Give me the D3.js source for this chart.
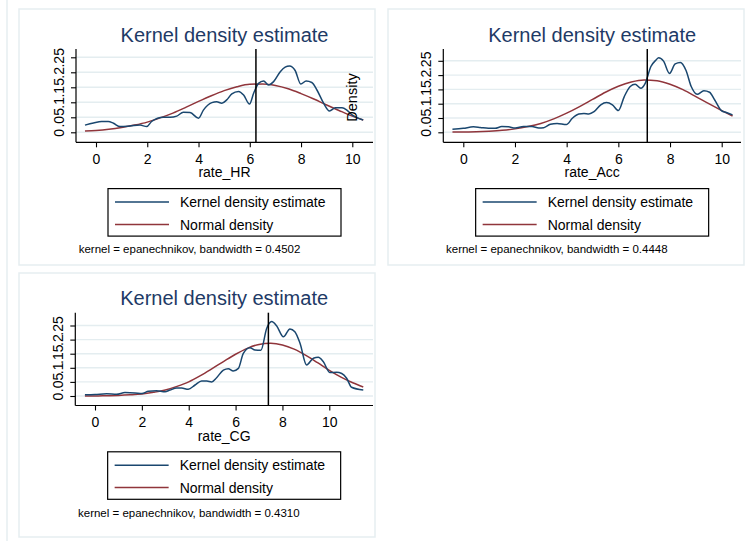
<!DOCTYPE html>
<html>
<head>
<meta charset="utf-8">
<script src="https://cdn.jsdelivr.net/npm/d3@7"></script>
<style>
  html, body { margin: 0; padding: 0; background: #ffffff; }
  svg { display: block; font-family: "Liberation Sans", Arial, Helvetica, sans-serif; }
</style>
</head>
<body>
<svg id="chart" width="749" height="541"></svg>
<script>
// ---- tick labels and legend text ----
const yTicks = [0, 0.05, 0.1, 0.15, 0.2, 0.25];
const xTicks = [0, 2, 4, 6, 8, 10];
const legendLabels = ["Kernel density estimate", "Normal density"];
const plotTitle = "Kernel density estimate";

// ---- rate_HR ----
const hrKdX = [-0.43, -0.1, 0.22, 0.48, 0.68, 0.94, 1.33, 1.72, 1.98, 2.17, 2.63, 2.89, 3.15, 3.41, 3.67, 4.0,
  4.19, 4.52, 4.71, 4.91, 5.1, 5.3, 5.56, 5.76, 5.99, 6.15, 6.34, 6.54, 6.73, 6.93, 7.19, 7.38, 7.55, 7.77,
  7.99, 8.2, 8.42, 8.62, 8.88, 9.11, 9.34, 9.6, 9.79, 9.99, 10.18, 10.42];
const hrKdY = [0.024, 0.031, 0.036, 0.036, 0.030, 0.019, 0.021, 0.024, 0.019, 0.036, 0.050, 0.050, 0.054, 0.067, 0.066, 0.047,
  0.074, 0.099, 0.102, 0.097, 0.108, 0.128, 0.136, 0.124, 0.094, 0.130, 0.163, 0.171, 0.158, 0.169, 0.202, 0.217, 0.221, 0.206,
  0.161, 0.171, 0.166, 0.141, 0.097, 0.071, 0.082, 0.082, 0.074, 0.058, 0.049, 0.041];
const hrNormX = [-0.43, 0, 0.5, 1, 1.5, 2, 2.5, 3, 3.5, 4, 4.5, 5, 5.5, 6, 6.5, 7, 7.5, 8, 8.5, 9, 9.5, 10, 10.43];
const hrNormY = [0.004, 0.006, 0.010, 0.016, 0.024, 0.034, 0.048, 0.064, 0.083, 0.103, 0.122, 0.139, 0.152, 0.160, 0.161,
  0.156, 0.145, 0.129, 0.111, 0.091, 0.072, 0.054, 0.041];
const hrMean = 6.24;
const hrBandwidth = "0.4502";

// ---- rate_Acc ----
const accKdX = [-0.42, 0, 0.39, 0.65, 0.97, 1.23, 1.49, 1.75, 2.01, 2.33, 2.66, 2.92, 3.11, 3.37, 3.63, 3.99,
  4.22, 4.47, 4.67, 4.86, 5.06, 5.32, 5.54, 5.77, 6.0, 6.23, 6.46, 6.65, 6.87, 7.04, 7.26, 7.46, 7.56, 7.75,
  7.98, 8.2, 8.4, 8.62, 8.82, 9.05, 9.31, 9.53, 9.73, 9.99, 10.18, 10.42];
const accKdY = [0.011, 0.014, 0.019, 0.017, 0.014, 0.014, 0.020, 0.019, 0.015, 0.020, 0.020, 0.015, 0.016, 0.028, 0.031, 0.027,
  0.049, 0.064, 0.066, 0.064, 0.072, 0.096, 0.104, 0.096, 0.076, 0.125, 0.160, 0.168, 0.154, 0.171, 0.230, 0.253, 0.261, 0.249,
  0.206, 0.239, 0.244, 0.216, 0.160, 0.133, 0.145, 0.140, 0.113, 0.076, 0.069, 0.061];
const accNormX = [-0.42, 0, 0.5, 1, 1.5, 2, 2.5, 3, 3.5, 4, 4.5, 5, 5.5, 6, 6.5, 7, 7.5, 8, 8.5, 9, 9.5, 10, 10.42];
const accNormY = [0.001, 0.001, 0.002, 0.004, 0.007, 0.012, 0.020, 0.031, 0.047, 0.067, 0.090, 0.115, 0.140, 0.161, 0.176,
  0.183, 0.180, 0.168, 0.149, 0.125, 0.100, 0.076, 0.057];
const accMean = 7.12;
const accBandwidth = "0.4448";

// ---- rate_CG ----
const cgKdX = [-0.43, 0, 0.5, 0.92, 1.28, 1.71, 2.0, 2.28, 2.63, 2.99, 3.2, 3.49, 3.7, 3.98, 4.27, 4.55, 4.77,
  4.98, 5.19, 5.48, 5.69, 5.9, 6.12, 6.33, 6.61, 6.83, 7.08, 7.33, 7.54, 7.75, 8.04, 8.32, 8.53, 8.75, 9.03,
  9.32, 9.53, 9.74, 10.03, 10.31, 10.53, 10.74, 10.95, 11.45];
const cgKdY = [0.004, 0.005, 0.008, 0.006, 0.012, 0.011, 0.009, 0.017, 0.019, 0.015, 0.021, 0.028, 0.028, 0.024, 0.039, 0.053, 0.053,
  0.050, 0.065, 0.092, 0.097, 0.089, 0.098, 0.151, 0.171, 0.163, 0.162, 0.240, 0.264, 0.249, 0.210, 0.238, 0.228, 0.187, 0.110,
  0.134, 0.137, 0.122, 0.083, 0.084, 0.080, 0.063, 0.031, 0.021];
const cgNormX = [-0.43, 0, 0.5, 1, 1.5, 2, 2.5, 3, 3.5, 4, 4.5, 5, 5.5, 6, 6.5, 7, 7.5, 8, 8.5, 9, 9.5, 10, 10.5, 11, 11.45];
const cgNormY = [0.000, 0.000, 0.001, 0.002, 0.004, 0.007, 0.013, 0.021, 0.034, 0.050, 0.072, 0.097, 0.123, 0.148, 0.169,
  0.183, 0.187, 0.181, 0.166, 0.144, 0.118, 0.091, 0.067, 0.047, 0.032];
const cgMean = 7.4;
const cgBandwidth = "0.4310";

// ---- styling ----
const kdColor = "#1a476f";
const normColor = "#90353b";
const titleColor = "#1e3a66";
const gridColor = "#e4edf0";
const frameColor = "#e6eef1";

const svg = d3.select("#chart");

// faint outer frame of the combined graph
svg.append("line").attr("x1", 7).attr("x2", 7).attr("y1", 0).attr("y2", 541)
  .attr("stroke", frameColor).attr("stroke-width", 1.5);

// one entry per sub-graph: variable, data and where its plot region sits
const panels = [
  { name: "rate_HR", kdX: hrKdX, kdY: hrKdY, nX: hrNormX, nY: hrNormY, mean: hrMean, bw: hrBandwidth,
    frame: [19, 9, 356, 256], plot: [76, 49, 373, 142.3], xr: [96, 352.3], yr: [132.3, 57.3], density: true },
  { name: "rate_Acc", kdX: accKdX, kdY: accKdY, nX: accNormX, nY: accNormY, mean: accMean, bw: accBandwidth,
    frame: [388, 9, 356, 256], plot: [443.3, 49, 741, 142.3], xr: [463.3, 721.7], yr: [132.3, 60.8], density: false },
  { name: "rate_CG", kdX: cgKdX, kdY: cgKdY, nX: cgNormX, nY: cgNormY, mean: cgMean, bw: cgBandwidth,
    frame: [19, 273, 356, 264], plot: [75.3, 312.7, 373, 405.5], xr: [95, 329.3], yr: [396, 325.5], density: false }
];

const fmtY = d => d === 0 ? "0" : String(d).replace(/^0/, "");

panels.forEach(p => {
  const [px0, py0, px1, py1] = p.plot;
  const g = svg.append("g");

  g.append("rect")
    .attr("x", p.frame[0]).attr("y", p.frame[1]).attr("width", p.frame[2]).attr("height", p.frame[3])
    .attr("fill", "none").attr("stroke", frameColor).attr("stroke-width", 1.5);

  const x = d3.scaleLinear().domain([0, 10]).range(p.xr);
  const y = d3.scaleLinear().domain([0, 0.25]).range(p.yr);

  // horizontal grid lines
  g.append("g").selectAll("line").data(yTicks).join("line")
    .attr("x1", px0).attr("x2", px1)
    .attr("y1", d => y(d)).attr("y2", d => y(d))
    .attr("stroke", gridColor).attr("stroke-width", 1.4);

  // y axis
  const ya = g.append("g").attr("transform", `translate(${px0},0)`)
    .call(d3.axisLeft(y).tickValues(yTicks).tickSize(5).tickFormat(fmtY));
  ya.select(".domain").remove();
  ya.selectAll(".tick line").attr("stroke", "#000").attr("stroke-width", 1.1);
  ya.selectAll(".tick text")
    .attr("x", null).attr("dy", null).attr("y", null)
    .attr("text-anchor", "middle")
    .attr("transform", "translate(-12.5,0) rotate(-90)")
    .attr("font-size", 14).attr("fill", "#000")
    .attr("font-family", "Liberation Sans, Arial, sans-serif");
  g.append("line").attr("x1", px0).attr("x2", px0).attr("y1", py0).attr("y2", py1)
    .attr("stroke", "#000").attr("stroke-width", 1.2);

  // x axis
  const xa = g.append("g").attr("transform", `translate(0,${py1})`)
    .call(d3.axisBottom(x).tickValues(xTicks).tickSize(5).tickFormat(d3.format("d")));
  xa.select(".domain").remove();
  xa.selectAll(".tick line").attr("stroke", "#000").attr("stroke-width", 1.1);
  xa.selectAll(".tick text")
    .attr("y", 21.5).attr("dy", null)
    .attr("font-size", 14).attr("fill", "#000")
    .attr("font-family", "Liberation Sans, Arial, sans-serif");
  g.append("line").attr("x1", px0).attr("x2", px1).attr("y1", py1).attr("y2", py1)
    .attr("stroke", "#000").attr("stroke-width", 1.2);

  const cx = (px0 + px1) / 2;

  // title and axis title
  g.append("text").attr("x", cx).attr("y", py0 - 7.5).attr("text-anchor", "middle")
    .attr("font-size", 20).attr("fill", titleColor).text(plotTitle);
  g.append("text").attr("x", cx).attr("y", py1 + 35).attr("text-anchor", "middle")
    .attr("font-size", 14).attr("fill", "#000").text(p.name);

  // normal density and kernel estimate
  const line = d3.line().x(d => x(d[0])).y(d => y(d[1])).curve(d3.curveMonotoneX);
  g.append("path").datum(d3.zip(p.nX, p.nY)).attr("d", line)
    .attr("fill", "none").attr("stroke", normColor).attr("stroke-width", 1.5);
  g.append("path").datum(d3.zip(p.kdX, p.kdY)).attr("d", line)
    .attr("fill", "none").attr("stroke", kdColor).attr("stroke-width", 1.5).attr("stroke-linejoin", "round");

  // reference line at the mean
  g.append("line").attr("x1", x(p.mean)).attr("x2", x(p.mean)).attr("y1", py0).attr("y2", py1)
    .attr("stroke", "#000").attr("stroke-width", 1.5);

  if (p.density) {
    g.append("text").attr("transform", `translate(357,97.5) rotate(-90)`)
      .attr("text-anchor", "middle").attr("font-size", 14.5).attr("fill", "#000").text("Density");
  }

  // legend
  const lw = 233, lh = 47.5;
  const lx = cx - lw / 2, ly = py1 + 46.3;
  const lg = g.append("g");
  lg.append("rect").attr("x", lx).attr("y", ly).attr("width", lw).attr("height", lh)
    .attr("fill", "#fff").attr("stroke", "#000").attr("stroke-width", 1.2);
  [kdColor, normColor].forEach((c, i) => {
    const yy = ly + 13.4 + i * 22.4;
    lg.append("line").attr("x1", lx + 7).attr("x2", lx + 61).attr("y1", yy).attr("y2", yy)
      .attr("stroke", c).attr("stroke-width", 1.5);
    lg.append("text").attr("x", lx + 72).attr("y", yy + 5.2)
      .attr("font-size", 14).attr("fill", "#000").text(legendLabels[i]);
  });

  // kernel note
  g.append("text").attr("x", px0 + 2.7).attr("y", py1 + 111)
    .attr("font-size", 11.5).attr("fill", "#000")
    .text(`kernel = epanechnikov, bandwidth = ${p.bw}`);
});
</script>
</body>
</html>
